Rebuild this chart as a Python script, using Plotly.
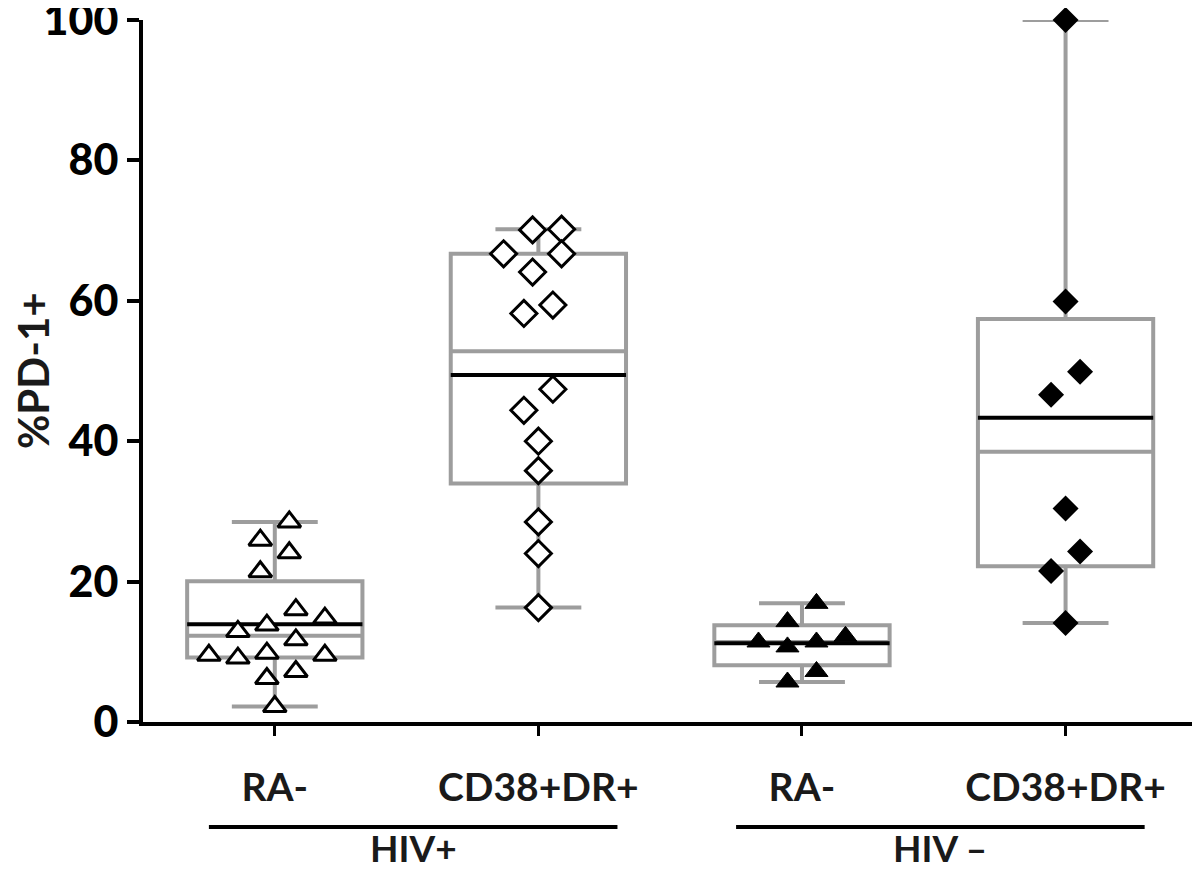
import numpy as np
import plotly.graph_objects as go

# category labels
groups = ['RA-', 'CD38+DR+', 'RA-', 'CD38+DR+']
hiv_labels = ['HIV+', 'HIV –']
y_ticks = [0, 20, 40, 60, 80, 100]
y_title = '%PD-1+'

# %PD-1+ values
hivpos_ra = [28.5, 25.9, 24.1, 21.4, 16.0, 14.8, 13.8, 12.9, 11.7, 9.8, 9.5, 9.5, 9.1, 7.2, 6.2, 2.2]
hivpos_cd38 = [70.2, 70.1, 66.7, 66.7, 64.1, 59.4, 58.2, 47.4, 44.4, 40.0, 35.8, 28.5, 24.0, 16.3]
hivneg_ra = [16.9, 14.3, 12.2, 11.4, 11.4, 10.7, 7.2, 5.7]
hivneg_cd38 = [100.0, 59.9, 49.9, 46.6, 30.4, 24.3, 21.5, 14.1]

series = [hivpos_ra, hivpos_cd38, hivneg_ra, hivneg_cd38]

BOX_GRAY = '#9d9d9d'
FONT = 'Lato, Open Sans, DejaVu Sans, sans-serif'
BOX_W = 0.665

markers = [
    dict(symbol='triangle-up', size=20, color='white', line=dict(color='black', width=3)),
    dict(symbol='diamond', size=20, color='white', line=dict(color='black', width=3)),
    dict(symbol='triangle-up', size=20, color='black', line=dict(color='black', width=1)),
    dict(symbol='diamond', size=20, color='black', line=dict(color='black', width=0)),
]


def swarm(vals, center, dy=3.4, dx=0.102, half=0.055):
    # simple beeswarm: lowest values first, slide sideways until no overlap
    vals = np.asarray(vals, dtype=float)
    order = np.argsort(vals)
    offs = np.zeros(len(vals))
    placed = []
    cands = [0] + [s * n for n in range(1, 14) for s in (1, -1)]
    for i in order:
        v = vals[i]
        for c in cands:
            o = c * half
            if all(abs(v - py) >= dy or abs(o - po) >= dx for py, po in placed):
                break
        placed.append((v, o))
        offs[i] = o
    # re-centre each chain of touching points
    sv = vals[order]
    start = 0
    for j in range(1, len(order) + 1):
        if j == len(order) or sv[j] - sv[j - 1] >= dy:
            idx = order[start:j]
            offs[idx] -= offs[idx].mean()
            start = j
    return center + offs


fig = go.Figure()

for i, vals in enumerate(series):
    v = np.asarray(vals, dtype=float)
    q1 = np.percentile(v, 25, method='weibull')
    q3 = np.percentile(v, 75, method='weibull')
    fig.add_trace(go.Box(
        x=[i], q1=[q1], median=[np.median(v)], q3=[q3],
        lowerfence=[v.min()], upperfence=[v.max()],
        width=BOX_W, whiskerwidth=0.49,
        line=dict(color=BOX_GRAY, width=4),
        fillcolor='rgba(0,0,0,0)',
        boxpoints=False, hoverinfo='skip',
    ))
    # mean line
    fig.add_trace(go.Scatter(
        x=[i - BOX_W / 2, i + BOX_W / 2], y=[v.mean(), v.mean()],
        mode='lines', line=dict(color='black', width=4),
        hoverinfo='skip',
    ))

for i, vals in enumerate(series):
    fig.add_trace(go.Scatter(
        x=swarm(vals, i), y=vals, mode='markers',
        marker=markers[i], cliponaxis=False,
    ))

# group underlines + labels
for k, lab in enumerate(hiv_labels):
    a, b = 2 * k - 0.25, 2 * k + 1.3
    fig.add_shape(type='line', xref='x', yref='paper', x0=a, x1=b,
                  y0=-0.1496, y1=-0.1496, line=dict(color='black', width=4))
    fig.add_annotation(x=(a + b) / 2, y=-0.2137, xref='x', yref='paper',
                       text=lab, showarrow=False, yanchor='bottom',
                       font=dict(family=FONT, size=37, color='#1a1a1a', weight='bold'))

fig.add_annotation(x=-0.104, y=0.5, xref='paper', yref='paper', text=y_title,
                   textangle=-90, showarrow=False, xanchor='center', yanchor='middle',
                   font=dict(family=FONT, size=42, color='#1a1a1a', weight='bold'))

# the page body adds an 8px margin, so the figure is 8px smaller and margins shifted
fig.update_layout(
    template='none',
    width=1192, height=865,
    margin=dict(l=135, r=0, t=12, b=151),
    plot_bgcolor='white', paper_bgcolor='white',
    showlegend=False,
    xaxis=dict(
        range=[-0.5, 3.51], tickmode='array', tickvals=list(range(len(groups))),
        ticktext=groups, showline=True, linecolor='black', linewidth=4,
        ticks='outside', ticklen=10, tickwidth=3, tickcolor='black',
        showgrid=False, zeroline=False, ticklabelstandoff=18, automargin=False,
        tickfont=dict(family=FONT, size=39, color='#1a1a1a', weight='bold'),
    ),
    yaxis=dict(
        range=[0, 100], tickmode='array', tickvals=y_ticks,
        showline=True, linecolor='black', linewidth=4,
        ticks='outside', ticklen=12, tickwidth=4, tickcolor='black',
        showgrid=False, zeroline=False, automargin=False, ticklabeloverflow='allow',
        tickfont=dict(family=FONT, size=43, color='black', weight=900),
    ),
)

fig.write_html('out.html')
